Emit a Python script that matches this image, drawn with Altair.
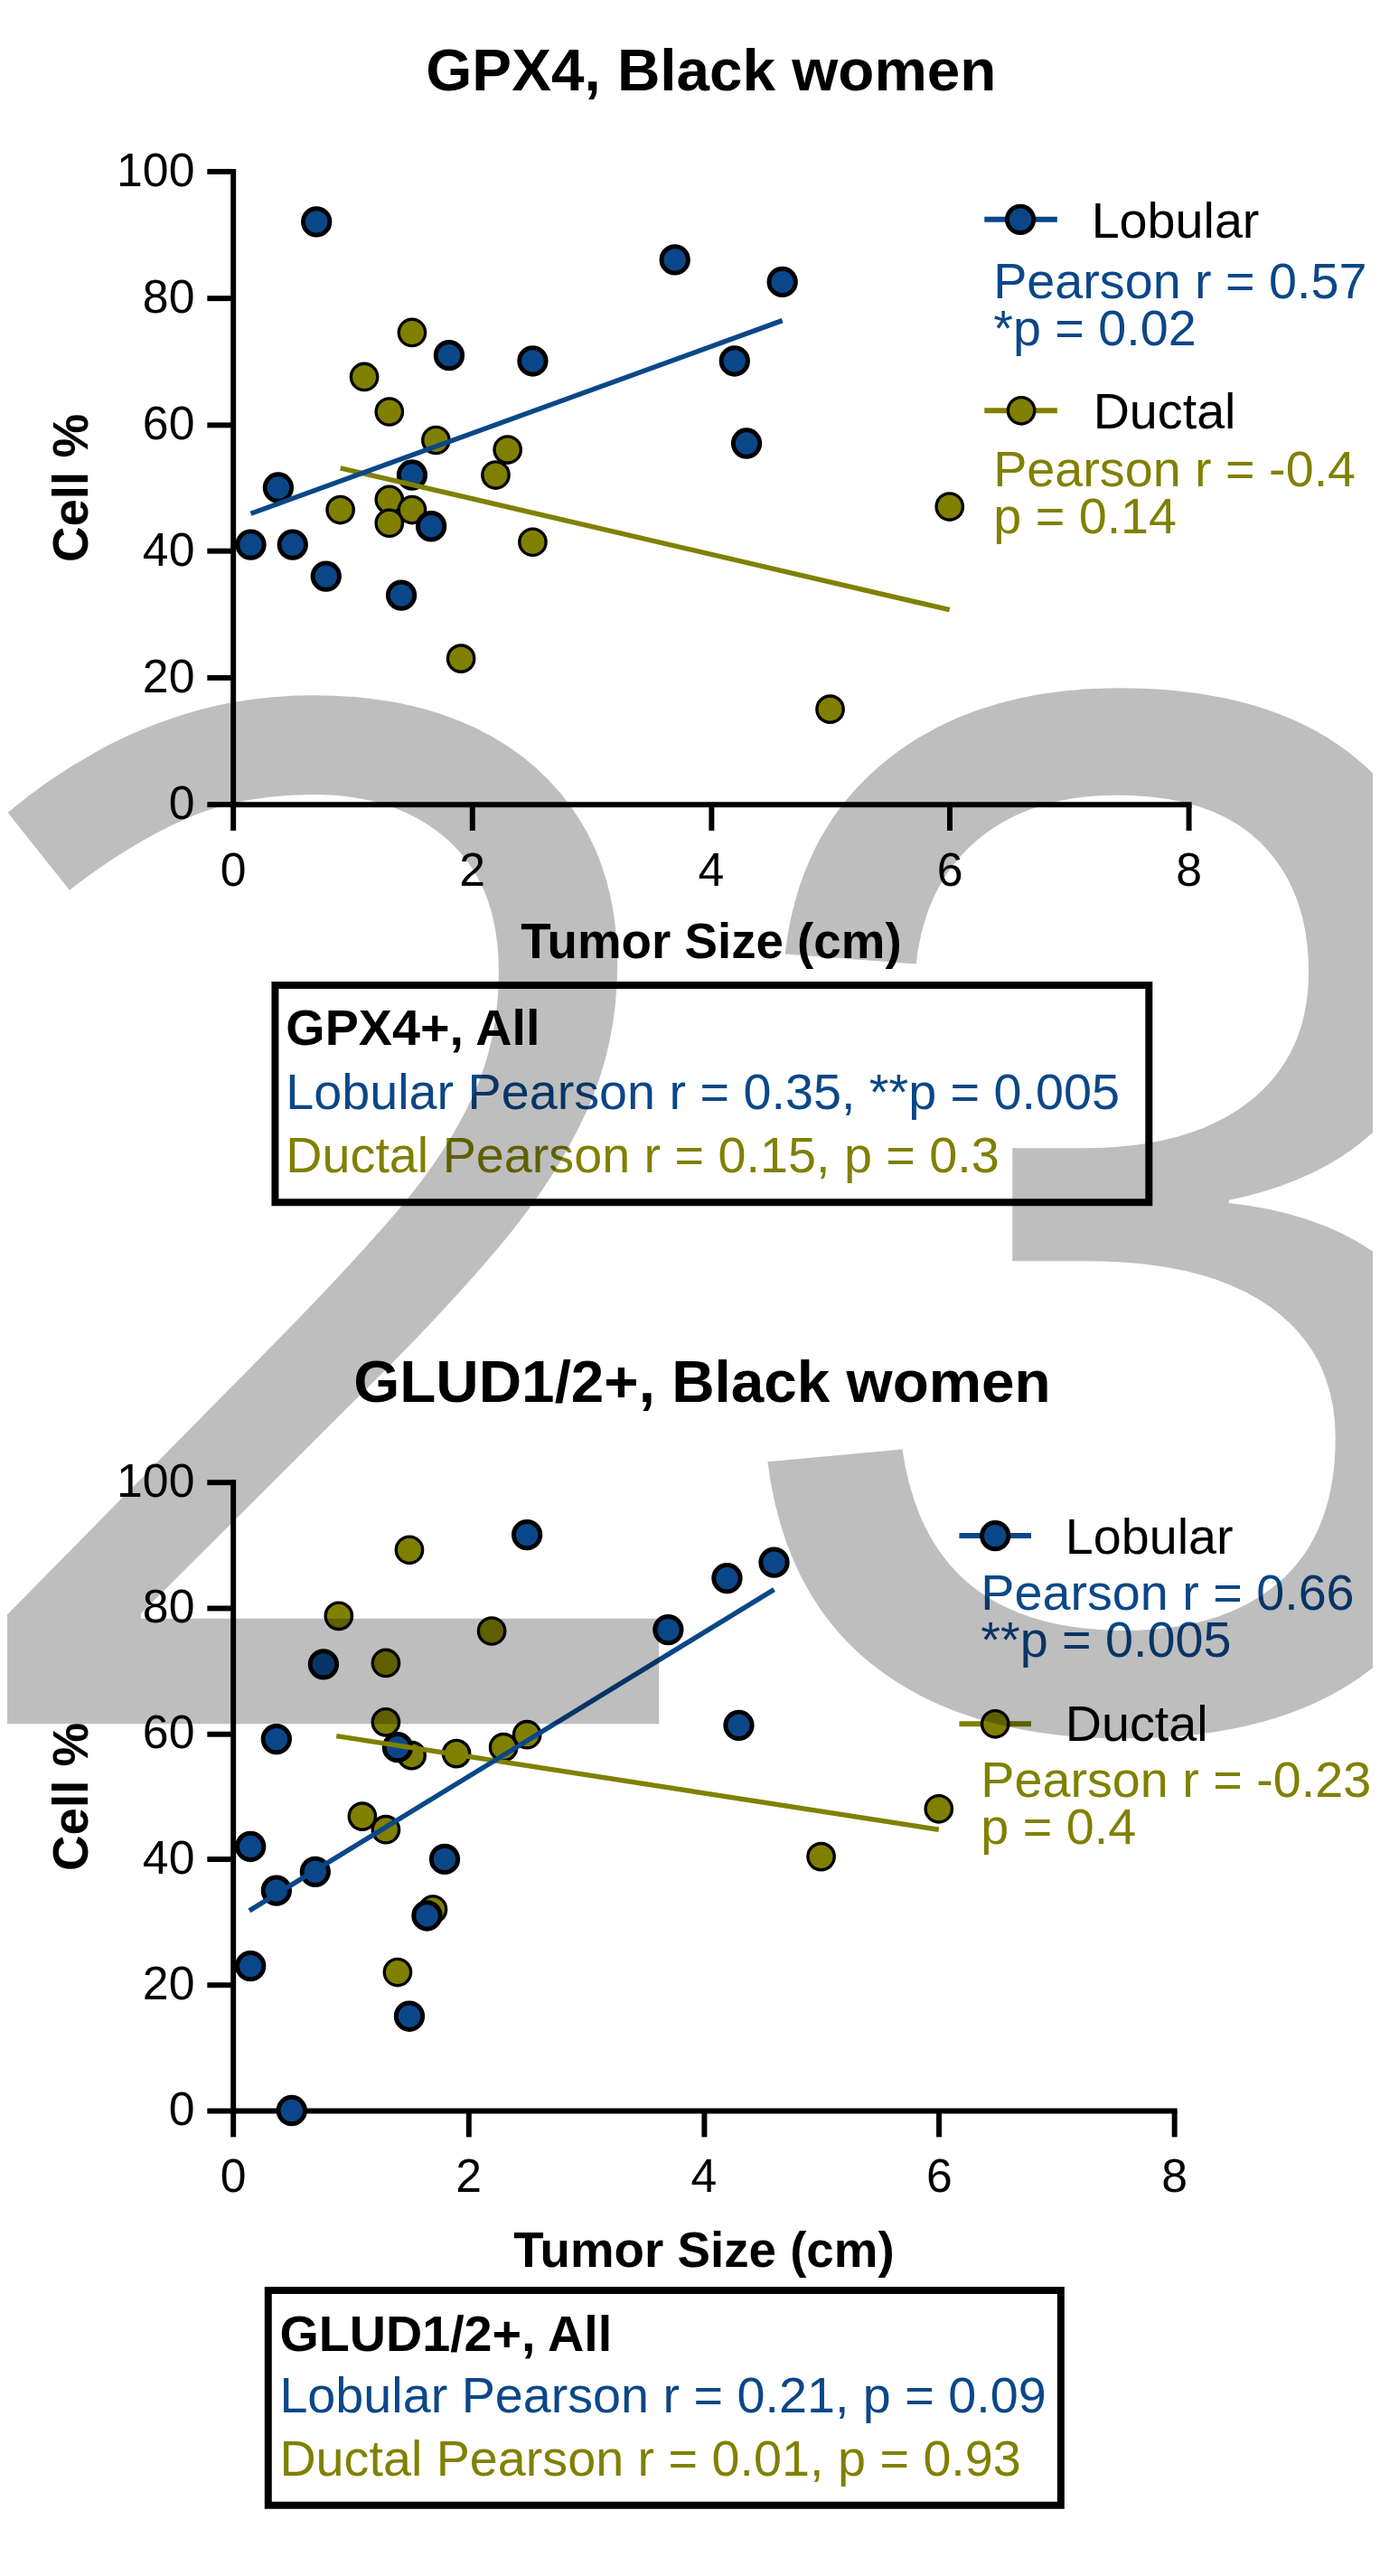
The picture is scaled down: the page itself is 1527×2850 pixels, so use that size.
import altair as alt
import pandas as pd

# ---------------- data ----------------
x_ticks = [0, 2, 4, 6, 8]
y_ticks = [0, 20, 40, 60, 80, 100]

# GPX4, Black women
gpx4_lob_x = [0.70, 3.70, 4.60, 1.81, 2.51, 4.20, 4.30, 0.38, 1.50, 1.66, 0.15, 0.50, 0.78, 1.41]
gpx4_lob_y = [92.0, 86.0, 82.5, 70.9, 70.0, 70.0, 57.0, 50.0, 52.0, 43.9, 41.0, 41.0, 36.0, 33.0]
gpx4_duc_x = [1.50, 1.10, 1.31, 1.70, 2.30, 2.20, 1.31, 0.90, 1.50, 1.31, 2.51, 1.91, 5.00, 6.00]
gpx4_duc_y = [74.5, 67.5, 62.0, 57.5, 56.0, 52.0, 48.1, 46.5, 46.5, 44.4, 41.4, 23.0, 15.0, 47.0]
gpx4_lob_fit_x = [0.15, 4.60]
gpx4_lob_fit_y = [45.9, 76.4]
gpx4_duc_fit_x = [0.90, 6.00]
gpx4_duc_fit_y = [53.1, 30.7]

# GLUD1/2+, Black women
glud_lob_x = [2.50, 4.60, 4.20, 3.70, 0.77, 4.30, 0.37, 1.40, 0.15, 0.70, 0.37, 1.80, 1.65, 0.15, 1.50, 0.50]
glud_lob_y = [91.6, 87.2, 84.7, 76.5, 71.0, 61.3, 59.1, 57.8, 42.0, 38.0, 35.0, 40.0, 31.0, 23.0, 15.0, 0.0]
glud_duc_x = [1.50, 0.90, 2.20, 1.30, 1.30, 1.52, 1.90, 2.30, 2.50, 1.10, 1.30, 1.70, 1.40, 5.00, 6.00]
glud_duc_y = [89.2, 78.7, 76.3, 71.2, 61.8, 56.5, 56.8, 57.8, 59.8, 46.8, 44.7, 32.0, 22.0, 40.4, 48.0]
glud_lob_fit_x = [0.14, 4.60]
glud_lob_fit_y = [31.8, 82.9]
glud_duc_fit_x = [0.88, 6.00]
glud_duc_fit_y = [59.6, 44.7]

# ---------------- styling ----------------
BLUE = "#0b4788"
OLIVE = "#808000"
FONT = "Liberation Sans"
PT_SIZE = 870

one = pd.DataFrame({"k": [0]})


def X(width, title_y):
    return alt.X(
        "x:Q",
        scale=alt.Scale(domain=[0, 8], nice=False, zero=False),
        axis=alt.Axis(
            values=x_ticks, title="Tumor Size (cm)", grid=False,
            domainColor="black", domainWidth=6, domainCap="square",
            tickColor="black", tickWidth=6, tickSize=29,
            labelFont=FONT, labelFontSize=52, labelColor="black", labelPadding=20,
            labelFlush=False, labelOverlap=False,
            titleFont=FONT, titleFontSize=55, titleFontWeight="bold", titleColor="black",
            titleBaseline="alphabetic", titleX=width / 2, titleY=title_y,
        ),
    )


def Y(height):
    return alt.Y(
        "y:Q",
        scale=alt.Scale(domain=[0, 100], nice=False, zero=False),
        axis=alt.Axis(
            values=y_ticks, title="Cell %", grid=False,
            domainColor="black", domainWidth=6, domainCap="square",
            tickColor="black", tickWidth=6, tickSize=29,
            labelFont=FONT, labelFontSize=52, labelColor="black", labelPadding=14,
            labelOverlap=False,
            titleFont=FONT, titleFontSize=55, titleFontWeight="bold", titleColor="black",
            titleAngle=270, titleBaseline="alphabetic", titleX=-162, titleY=height / 2,
        ),
    )


def points(xs, ys, fill, sw, width, height, title_y):
    df = pd.DataFrame({"x": xs, "y": ys})
    return alt.Chart(df).mark_point(
        shape="circle", filled=True, fill=fill, stroke="black",
        strokeWidth=sw, size=PT_SIZE, opacity=1,
    ).encode(x=X(width, title_y), y=Y(height))


def fit(xs, ys, color, width, height, title_y):
    df = pd.DataFrame({"x": xs, "y": ys})
    return alt.Chart(df).mark_line(color=color, strokeWidth=5.5).encode(
        x=X(width, title_y), y=Y(height)
    )


def label(s, x, y, color="black", size=56, weight="normal", align="left"):
    return alt.Chart(one).mark_text(
        text=s, font=FONT, fontSize=size, fontWeight=weight, color=color,
        align=align, baseline="alphabetic",
    ).encode(x=alt.value(x), y=alt.value(y))


def legend_symbol(x1, x2, xc, y, color, sw):
    line = alt.Chart(one).mark_rule(color=color, strokeWidth=6).encode(
        x=alt.value(x1), x2=alt.value(x2), y=alt.value(y)
    )
    dot = alt.Chart(one).mark_point(
        shape="circle", filled=True, fill=color, stroke="black",
        strokeWidth=sw, size=PT_SIZE, opacity=1,
    ).encode(x=alt.value(xc), y=alt.value(y))
    return [line, dot]


def box(x1, x2, y1, y2):
    return alt.Chart(one).mark_rect(fill="white", stroke="black", strokeWidth=8).encode(
        x=alt.value(x1), x2=alt.value(x2), y=alt.value(y1), y2=alt.value(y2)
    )


def big_digit(s, x, y, font, size):
    return alt.Chart(one).mark_text(
        text=s, font=font, fontSize=size, color="black", opacity=0.25,
        align="left", baseline="alphabetic",
    ).encode(x=alt.value(x), y=alt.value(y))


# ---------------- panel 1: GPX4 ----------------
W1, H1, TY1 = 1063, 704, 171
frame = alt.Chart(one).mark_rule(color="white", strokeWidth=1).encode(
    x=alt.value(-500), x2=alt.value(1600), y=alt.value(-300)
)
p1_layers = [
    frame,
    points(gpx4_duc_x, gpx4_duc_y, OLIVE, 3.4, W1, H1, TY1),
    points(gpx4_lob_x, gpx4_lob_y, BLUE, 5, W1, H1, TY1),
    fit(gpx4_duc_fit_x, gpx4_duc_fit_y, OLIVE, W1, H1, TY1),
    fit(gpx4_lob_fit_x, gpx4_lob_fit_y, BLUE, W1, H1, TY1),
    label("GPX4, Black women", 532, -90.3, size=66, weight="bold", align="center"),
    *legend_symbol(836, 917, 876, 53.7, BLUE, 5),
    label("Lobular", 955, 74.3),
    label("Pearson r = 0.57", 846, 141, color=BLUE),
    label("*p = 0.02", 846, 193.7, color=BLUE),
    *legend_symbol(836, 917, 877, 266.3, OLIVE, 3.4),
    label("Ductal", 957, 286.3),
    label("Pearson r = -0.4", 846, 350.3, color=OLIVE),
    label("p = 0.14", 846, 403, color=OLIVE),
    box(47, 1019, 905.3, 1147),
    label("GPX4+, All", 59, 972, weight="bold"),
    label("Lobular Pearson r = 0.35, **p = 0.005", 59, 1043, color=BLUE),
    label("Ductal Pearson r = 0.15, p = 0.3", 59, 1113, color=OLIVE),
]
panel1 = alt.layer(*p1_layers).properties(width=W1, height=H1)

# ---------------- panel 2: GLUD1/2 ----------------
W2, H2, TY2 = 1047, 699, 173
p2_layers = [
    points(glud_duc_x, glud_duc_y, OLIVE, 3.4, W2, H2, TY2),
    points(glud_lob_x, glud_lob_y, BLUE, 5, W2, H2, TY2),
    fit(glud_duc_fit_x, glud_duc_fit_y, OLIVE, W2, H2, TY2),
    fit(glud_lob_fit_x, glud_lob_fit_y, BLUE, W2, H2, TY2),
    label("GLUD1/2+, Black women", 522, -89.5, size=66, weight="bold", align="center"),
    *legend_symbol(808, 888, 848, 59.7, BLUE, 5),
    label("Lobular", 926, 79.7),
    label("Pearson r = 0.66", 832, 141.7, color=BLUE),
    label("**p = 0.005", 832, 194, color=BLUE),
    *legend_symbol(808, 888, 848, 269, OLIVE, 3.4),
    label("Ductal", 926, 288.3),
    label("Pearson r = -0.23", 832, 349.7, color=OLIVE),
    label("p = 0.4", 832, 402.3, color=OLIVE),
    box(39.3, 921, 899, 1138),
    label("GLUD1/2+, All", 52, 966.7, weight="bold"),
    label("Lobular Pearson r = 0.21, p = 0.09", 52, 1034.7, color=BLUE),
    label("Ductal Pearson r = 0.01, p = 0.93", 52, 1104.7, color=OLIVE),
    # large grey "23" overlay, drawn over both panels
    big_digit("2", -343, 269, "Open Sans", 1580),
    big_digit("3", 532, 269, "Liberation Sans", 1650),
]
panel2 = alt.layer(*p2_layers).properties(width=W2, height=H2)

chart = (
    alt.vconcat(panel1, panel2, spacing=754, bounds="flush")
    .properties(padding={"left": -250, "top": -126, "right": -333, "bottom": 0},
                background="white")
    .configure_view(strokeWidth=0)
)

chart.save("out.html", embed_options={"renderer": "svg", "actions": False})
